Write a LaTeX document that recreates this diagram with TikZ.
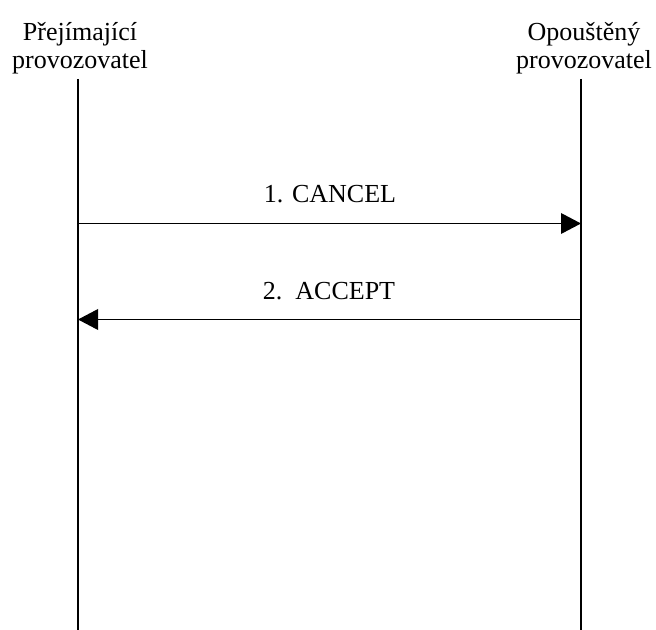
\documentclass[tikz,border=0pt]{standalone}
\usepackage{fontspec}
\setmainfont{Liberation Serif}
\usetikzlibrary{arrows.meta}

\tikzset{
  lbl/.style={font=\fontsize{19.5}{21}\selectfont, inner sep=0pt},
  lifeline/.style={line width=1pt},
  msg/.style={line width=1pt, -{Triangle[length=15pt,width=15.5pt]}}
}

\begin{document}
\begin{tikzpicture}[x=0.75pt,y=0.75pt,yscale=-1,xscale=1]
        \useasboundingbox (0,0) rectangle (656,630);

        % Text Node
        \node (hdrL) [lbl, align=center, anchor=south] at (80,74) {P\v{r}ej\'{i}maj\'{i}c\'{i}\\provozovatel};
        % Text Node
        \node (hdrR) [lbl, align=center, anchor=south] at (584,74) {Opou\v{s}t\v{e}n\'{y}\\provozovatel};

        % Lifeline ends
        \coordinate (topL) at (78,79);
        \coordinate (botL) at (78,630);
        \coordinate (topR) at (581,79);
        \coordinate (botR) at (581,630);
        \coordinate (cancelL) at (78,223.5);
        \coordinate (cancelR) at (581,223.5);
        \coordinate (acceptL) at (78,319.5);
        \coordinate (acceptR) at (581,319.5);

        %Straight Lines
        \draw [lifeline] (topL) -- (botL) ;
        \draw [lifeline] (topR) -- (botR) ;
        %Straight Lines
        \draw [msg] (cancelL) -- (cancelR) ;
        \draw [msg] (acceptR) -- (acceptL) ;

        % Text Node
        \node (cancel) [lbl, anchor=base] at (330,203) {1. CANCEL};
        % Text Node
        \node (accept) [lbl, anchor=base] at (329,300) {2.\ \ ACCEPT};

\end{tikzpicture}
\end{document}
